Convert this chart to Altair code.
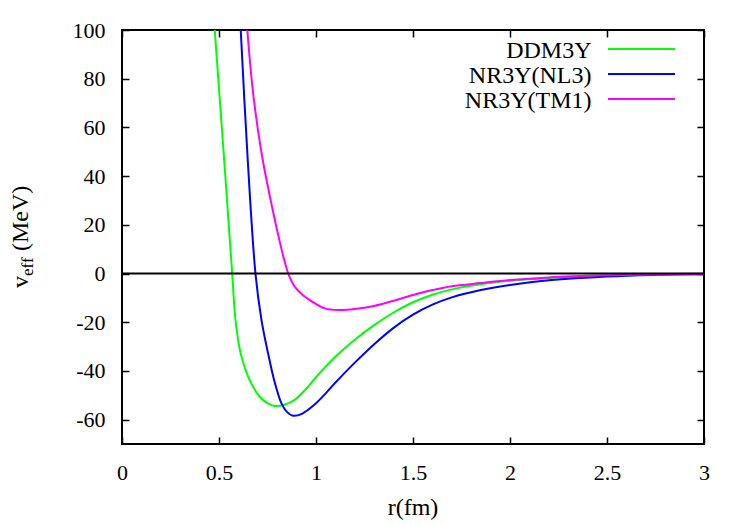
import altair as alt
import pandas as pd

# ---------------- data ----------------
series_names = ["DDM3Y", "NR3Y(NL3)", "NR3Y(TM1)"]
series_colors = ["#00ff00", "#0000ff", "#ff00ff"]

ddm3y_r = [0.478, 0.524, 0.568, 0.585, 0.612, 0.658, 0.71, 0.75, 0.787, 0.84, 0.89, 0.95, 1.0,
           1.1, 1.2, 1.3, 1.4, 1.5, 1.6, 1.7, 1.85, 2.0, 2.2, 2.5, 2.75, 3.0]
ddm3y_v = [100, 49.6, 0, -19.1, -32.8, -43.7, -50.6, -53.2, -54.4, -53.8, -51.9, -47.3, -42.6,
           -34.2, -27.2, -21.2, -16.0, -11.8, -8.7, -6.5, -4.4, -3.0, -1.8, -0.8, -0.4, -0.15]

nl3_r = [0.612, 0.646, 0.688, 0.719, 0.753, 0.784, 0.822, 0.85, 0.881, 0.93, 0.993, 1.05, 1.1,
         1.2, 1.3, 1.4, 1.5, 1.6, 1.7, 1.85, 2.0, 2.2, 2.5, 2.75, 3.0]
nl3_v = [100, 49.6, 0, -19.1, -32.8, -43.7, -53.3, -56.8, -58.4, -57.5, -53.8, -49.2, -44.8,
         -36.6, -29.0, -22.3, -16.9, -12.8, -9.8, -6.8, -4.7, -2.8, -1.2, -0.55, -0.25]

tm1_r = [0.646, 0.675, 0.719, 0.775, 0.813, 0.835, 0.857, 0.875, 0.89, 0.93, 0.968, 1.045, 1.12,
         1.2, 1.3, 1.4, 1.5, 1.6, 1.7, 1.85, 2.0, 2.2, 2.5, 2.75, 3.0]
tm1_v = [100, 74.7, 49.6, 26.8, 13.1, 6.0, 0, -3.3, -5.4, -8.7, -10.9, -14.3, -15.0,
         -14.6, -13.3, -11.2, -8.8, -6.8, -5.2, -3.9, -2.7, -1.6, -0.75, -0.35, -0.1]

x_ticks = [0, 0.5, 1, 1.5, 2, 2.5, 3]
y_ticks = [-60, -40, -20, 0, 20, 40, 60, 80, 100]

x_title = "r(fm)"
y_title_main = "v"
y_title_sub = "eff"
y_title_unit = "(MeV)"

# ---------------- build ----------------
frames = []
for name, rr, vv in zip(series_names, [ddm3y_r, nl3_r, tm1_r], [ddm3y_v, nl3_v, tm1_v]):
    frames.append(pd.DataFrame({"r": rr, "v": vv, "series": name, "order": list(range(len(rr)))}))
df = pd.concat(frames, ignore_index=True)

FONT = "Liberation Serif"
W, H = 582, 414

xscale = alt.Scale(domain=[0, 3], nice=False, zero=False)
yscale = alt.Scale(domain=[-70, 100], nice=False, zero=False)

common_axis = dict(offset=-7, tickSize=7, domain=False, grid=False, tickColor="black",
                   tickWidth=1.5, title=None, labelColor="black", labelFont=FONT,
                   labelFontSize=22, labelOverlap=False, labelFlush=False,
                   labelExpr="'' + datum.value")

base = alt.Chart(df)

lines = base.mark_line(interpolate="catmull-rom", strokeWidth=2, clip=True).encode(
    x=alt.X("r:Q", scale=xscale,
            axis=alt.Axis(orient="bottom", values=x_ticks, labelPadding=18, **common_axis)),
    y=alt.Y("v:Q", scale=yscale,
            axis=alt.Axis(orient="left", values=y_ticks, labelPadding=17, **common_axis)),
    color=alt.Color("series:N", scale=alt.Scale(domain=series_names, range=series_colors), legend=None),
    order=alt.Order("order:Q"),
    detail="series:N",
)

mirror = base.mark_line(opacity=0).encode(
    x=alt.X("r:Q", scale=xscale,
            axis=alt.Axis(orient="top", values=x_ticks, labels=False, **common_axis)),
    y=alt.Y("v:Q", scale=yscale,
            axis=alt.Axis(orient="right", values=y_ticks, labels=False, **common_axis)),
    detail="series:N",
)

zero_line = alt.Chart(pd.DataFrame({"v": [0]})).mark_rule(color="black", strokeWidth=2).encode(
    y=alt.Y("v:Q", scale=yscale, axis=None)
)

layers = [lines, mirror, zero_line]

for i, (name, color) in enumerate(zip(series_names, series_colors)):
    layers.append(
        alt.Chart(pd.DataFrame({"label": [name]})).mark_text(
            align="right", baseline="alphabetic", font=FONT, fontSize=24, color="black"
        ).encode(x=alt.value(469.5), y=alt.value(28 + 25 * i), text="label:N")
    )
    layers.append(
        alt.Chart(pd.DataFrame({"label": [name]})).mark_rule(color=color, strokeWidth=2).encode(
            x=alt.value(486), x2=alt.value(553), y=alt.value(19 + 25 * i)
        )
    )

layers.append(
    alt.Chart(pd.DataFrame({"t": [x_title]})).mark_text(
        align="center", baseline="alphabetic", font=FONT, fontSize=24, color="black"
    ).encode(x=alt.value(W / 2), y=alt.value(485), text="t:N")
)
for txt, xv, yv, fs in [(y_title_main, -94, 258, 24), (y_title_sub, -89, 246, 17), (y_title_unit, -94, 221, 24)]:
    layers.append(
        alt.Chart(pd.DataFrame({"t": [txt]})).mark_text(
            align="left", baseline="alphabetic", font=FONT, fontSize=fs, color="black", angle=270
        ).encode(x=alt.value(xv), y=alt.value(yv), text="t:N")
    )

chart = alt.layer(*layers).resolve_axis(x="independent", y="independent").properties(
    width=W, height=H, autosize="none",
    padding={"left": 122, "top": 30, "right": 750 - 122 - W, "bottom": 525 - 30 - H},
    background="white",
).configure_view(stroke="black", strokeWidth=2)

chart.save("out.html", embed_options={"renderer": "svg", "actions": False})
